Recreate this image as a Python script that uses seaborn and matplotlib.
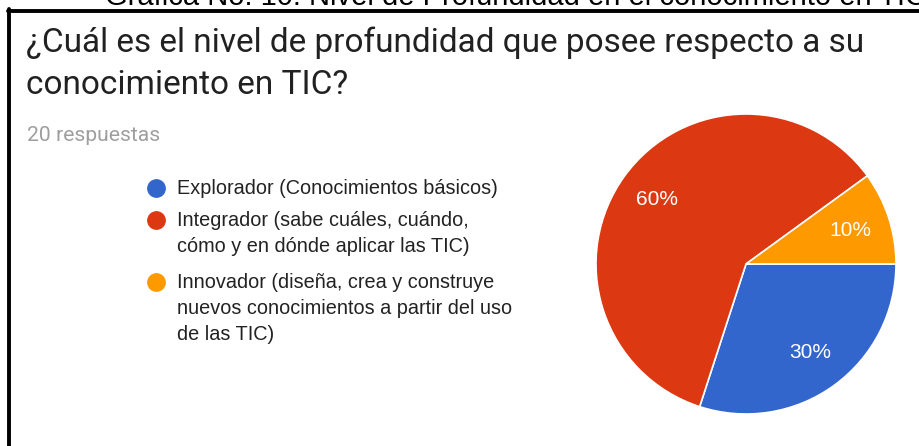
import matplotlib
matplotlib.use('Agg')
import matplotlib.pyplot as plt
import seaborn as sns
from matplotlib.lines import Line2D

# Data
categorias = ['Explorador (Conocimientos básicos)',
              'Integrador (sabe cuáles, cuándo,\ncómo y en dónde aplicar las TIC)',
              'Innovador (diseña, crea y construye\nnuevos conocimientos a partir del uso\nde las TIC)']
porcentajes = [30, 60, 10]
colores = ['#3366CC', '#DC3912', '#FF9900']
pregunta = ['¿Cuál es el nivel de profundidad que posee respecto a su',
            'conocimiento en TIC?']
respuestas = '20 respuestas'
encabezado = 'Gráfica No. 10. Nivel de Profundidad en el conocimiento en TIC'

sns.set_theme(style='white')
plt.rcParams['font.family'] = ['Roboto', 'DejaVu Sans']

W, H = 920, 446
fig = plt.figure(figsize=(W / 100, H / 100), dpi=100)
fig.patch.set_facecolor('white')


def fx(px):
    return px / W


def fy(py):
    return 1 - py / H


# clipped caption above the frame
fig.text(fx(105), fy(5), encabezado, fontsize=21, family=['Liberation Sans'],
         color='black', va='baseline', ha='left')

# black frame (top + left)
fig.add_artist(Line2D([fx(8), 1.0], [fy(10.5), fy(10.5)], color='black', lw=2.8,
                      transform=fig.transFigure))
fig.add_artist(Line2D([fx(9.5), fx(9.5)], [fy(9), 0.0], color='black', lw=2.8,
                      transform=fig.transFigure))

# question title
fig.text(fx(26), fy(52), pregunta[0], fontsize=24, color='#212121', va='baseline')
fig.text(fx(26), fy(94), pregunta[1], fontsize=24, color='#212121', va='baseline')
fig.text(fx(27), fy(141), respuestas, fontsize=15.2, color='#9e9e9e', va='baseline')

# legend: one marker per category, each text line placed on its own baseline
marca_y = [188, 220, 282]
for cat, col, y in zip(categorias, colores, marca_y):
    fig.add_artist(Line2D([fx(156)], [fy(y)], marker='o', markersize=12.5,
                          color=col, lw=0, transform=fig.transFigure))
    for i, linea in enumerate(cat.split('\n')):
        fig.text(fx(177), fy(y + 6.5 + 26 * i), linea, fontsize=14.3,
                 family=['Liberation Sans'], color='#222222',
                 va='baseline', ha='left')

# pie
ax = fig.add_axes([fx(596), fy(414), fx(300), 300 / H])
wedges, textos, autotextos = ax.pie(
    porcentajes, colors=colores, startangle=0, counterclock=False,
    autopct='%1.0f%%', pctdistance=0.73,
    wedgeprops=dict(edgecolor='white', linewidth=1.2),
    textprops=dict(color='white', fontsize=15, family=['Liberation Sans']))
ax.set_xlim(-1, 1)
ax.set_ylim(-1, 1)
ax.axis('off')

fig.savefig('out.png', dpi=100, facecolor='white')
